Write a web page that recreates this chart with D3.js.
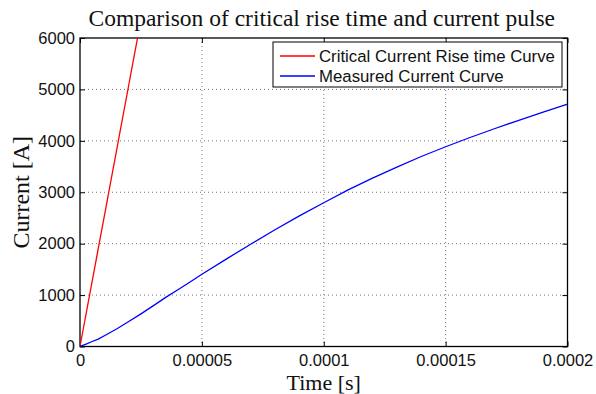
<!DOCTYPE html>
<html>
<head>
<meta charset="utf-8">
<script src="https://cdn.jsdelivr.net/npm/d3@7"></script>
<style>
  html, body { margin: 0; padding: 0; background: #fff; }
  svg { display: block; }
</style>
</head>
<body>
<svg id="chart" width="596" height="394"></svg>
<script>
// Time samples (s) and measured current (A)
const measuredTime = [0, 2.5e-6, 5e-6, 7.5e-6, 1e-5, 1.5e-5, 2e-5, 2.5e-5, 3e-5, 3.5e-5, 4e-5, 4.5e-5,
  5e-5, 6e-5, 7e-5, 8e-5, 9e-5, 1e-4, 1.1e-4, 1.2e-4, 1.3e-4, 1.4e-4, 1.5e-4, 1.6e-4, 1.7e-4,
  1.8e-4, 1.9e-4, 2e-4];
const measuredCurrent = [0, 48, 97, 145, 210, 340, 485, 635, 790, 950, 1100, 1250,
  1405, 1700, 1990, 2270, 2540, 2795, 3045, 3275, 3490, 3695, 3885, 4065, 4235,
  4400, 4560, 4715];

// Critical current rise (linear ramp)
const criticalTime = [0, 2.36e-5];
const criticalCurrent = [0, 6000];

const xTicks = [0, 0.00005, 0.0001, 0.00015, 0.0002];
const xTickLabels = ["0", "0.00005", "0.0001", "0.00015", "0.0002"];
const yTicks = [0, 1000, 2000, 3000, 4000, 5000, 6000];
const yTickLabels = ["0", "1000", "2000", "3000", "4000", "5000", "6000"];

const seriesNames = ["Critical Current Rise time Curve", "Measured Current Curve"];
const seriesColors = ["#ff0000", "#0000ff"];

const svg = d3.select("#chart");
const plotL = 80, plotR = 567.5, plotT = 38, plotB = 346.5;

const x = d3.scaleLinear().domain([0, 0.0002]).range([plotL, plotR]);
const y = d3.scaleLinear().domain([0, 6000]).range([plotB, plotT]);

const sans = "'Liberation Sans', Arial, Helvetica, sans-serif";
const serif = "'Liberation Serif', 'DejaVu Serif', serif";

// clip region for the plotted lines
svg.append("defs").append("clipPath").attr("id", "plotClip")
  .append("rect").attr("x", plotL).attr("y", plotT)
  .attr("width", plotR - plotL).attr("height", plotB - plotT);

// grid
const grid = svg.append("g").attr("stroke", "#555").attr("stroke-width", 0.8)
  .attr("stroke-dasharray", "1,3");
xTicks.slice(1, -1).forEach(t => {
  grid.append("line").attr("x1", x(t)).attr("x2", x(t)).attr("y1", plotT).attr("y2", plotB);
});
yTicks.slice(1, -1).forEach(t => {
  grid.append("line").attr("x1", plotL).attr("x2", plotR).attr("y1", y(t)).attr("y2", y(t));
});

// axes with inward ticks on all four sides
const axisStyle = g => {
  g.select(".domain").remove();
  g.selectAll(".tick line").attr("stroke", "#000").attr("stroke-width", 1);
  g.selectAll(".tick text").attr("font-family", sans).attr("font-size", 16.5).attr("fill", "#111");
};
svg.append("g").attr("transform", `translate(0,${plotB})`)
  .call(d3.axisBottom(x).tickValues(xTicks).tickFormat((d, i) => xTickLabels[i])
    .tickSizeInner(-5).tickSizeOuter(0).tickPadding(10))
  .call(axisStyle)
  .selectAll(".tick text").attr("dy", "0.71em").attr("y", 8);
svg.append("g").attr("transform", `translate(0,${plotT})`)
  .call(d3.axisTop(x).tickValues(xTicks).tickFormat("").tickSizeInner(-5).tickSizeOuter(0))
  .call(axisStyle);
svg.append("g").attr("transform", `translate(${plotL},0)`)
  .call(d3.axisLeft(y).tickValues(yTicks).tickFormat((d, i) => yTickLabels[i])
    .tickSizeInner(-5).tickSizeOuter(0).tickPadding(10))
  .call(axisStyle)
  .selectAll(".tick text").attr("x", -5);
svg.append("g").attr("transform", `translate(${plotR},0)`)
  .call(d3.axisRight(y).tickValues(yTicks).tickFormat("").tickSizeInner(-5).tickSizeOuter(0))
  .call(axisStyle);

// frame
svg.append("rect").attr("x", plotL).attr("y", plotT)
  .attr("width", plotR - plotL).attr("height", plotB - plotT)
  .attr("fill", "none").attr("stroke", "#000").attr("stroke-width", 1.3);

// series
const line = d3.line().x(d => x(d[0])).y(d => y(d[1]));
const plot = svg.append("g").attr("clip-path", "url(#plotClip)");
plot.append("path")
  .datum(criticalTime.map((t, i) => [t, criticalCurrent[i]]))
  .attr("d", line).attr("fill", "none").attr("stroke", seriesColors[0]).attr("stroke-width", 1.3);
plot.append("path")
  .datum(measuredTime.map((t, i) => [t, measuredCurrent[i]]))
  .attr("d", line).attr("fill", "none").attr("stroke", seriesColors[1]).attr("stroke-width", 1.3);

// title and axis labels
svg.append("text").attr("x", (plotL + plotR) / 2 - 2).attr("y", 26)
  .attr("text-anchor", "middle").attr("font-family", serif).attr("font-size", 23.5)
  .attr("fill", "#111").text("Comparison of critical rise time and current pulse");
svg.append("text").attr("x", (plotL + plotR) / 2).attr("y", 390)
  .attr("text-anchor", "middle").attr("font-family", serif).attr("font-size", 22)
  .attr("fill", "#111").text("Time [s]");
svg.append("text").attr("transform", `translate(29,${(plotT + plotB) / 2}) rotate(-90)`)
  .attr("text-anchor", "middle").attr("font-family", serif).attr("font-size", 24)
  .attr("fill", "#111").text("Current [A]");

// legend
const legend = svg.append("g");
legend.append("rect").attr("x", 273).attr("y", 42).attr("width", 289).attr("height", 45)
  .attr("fill", "#fff").attr("stroke", "#000").attr("stroke-width", 1);
seriesNames.forEach((name, i) => {
  const ly = 56 + i * 20;
  legend.append("line").attr("x1", 280).attr("x2", 315).attr("y1", ly).attr("y2", ly)
    .attr("stroke", seriesColors[i]).attr("stroke-width", 1.3);
  legend.append("text").attr("x", 319).attr("y", ly).attr("dy", "0.35em")
    .attr("font-family", sans).attr("font-size", 16.8).attr("fill", "#111").text(name);
});
</script>
</body>
</html>
